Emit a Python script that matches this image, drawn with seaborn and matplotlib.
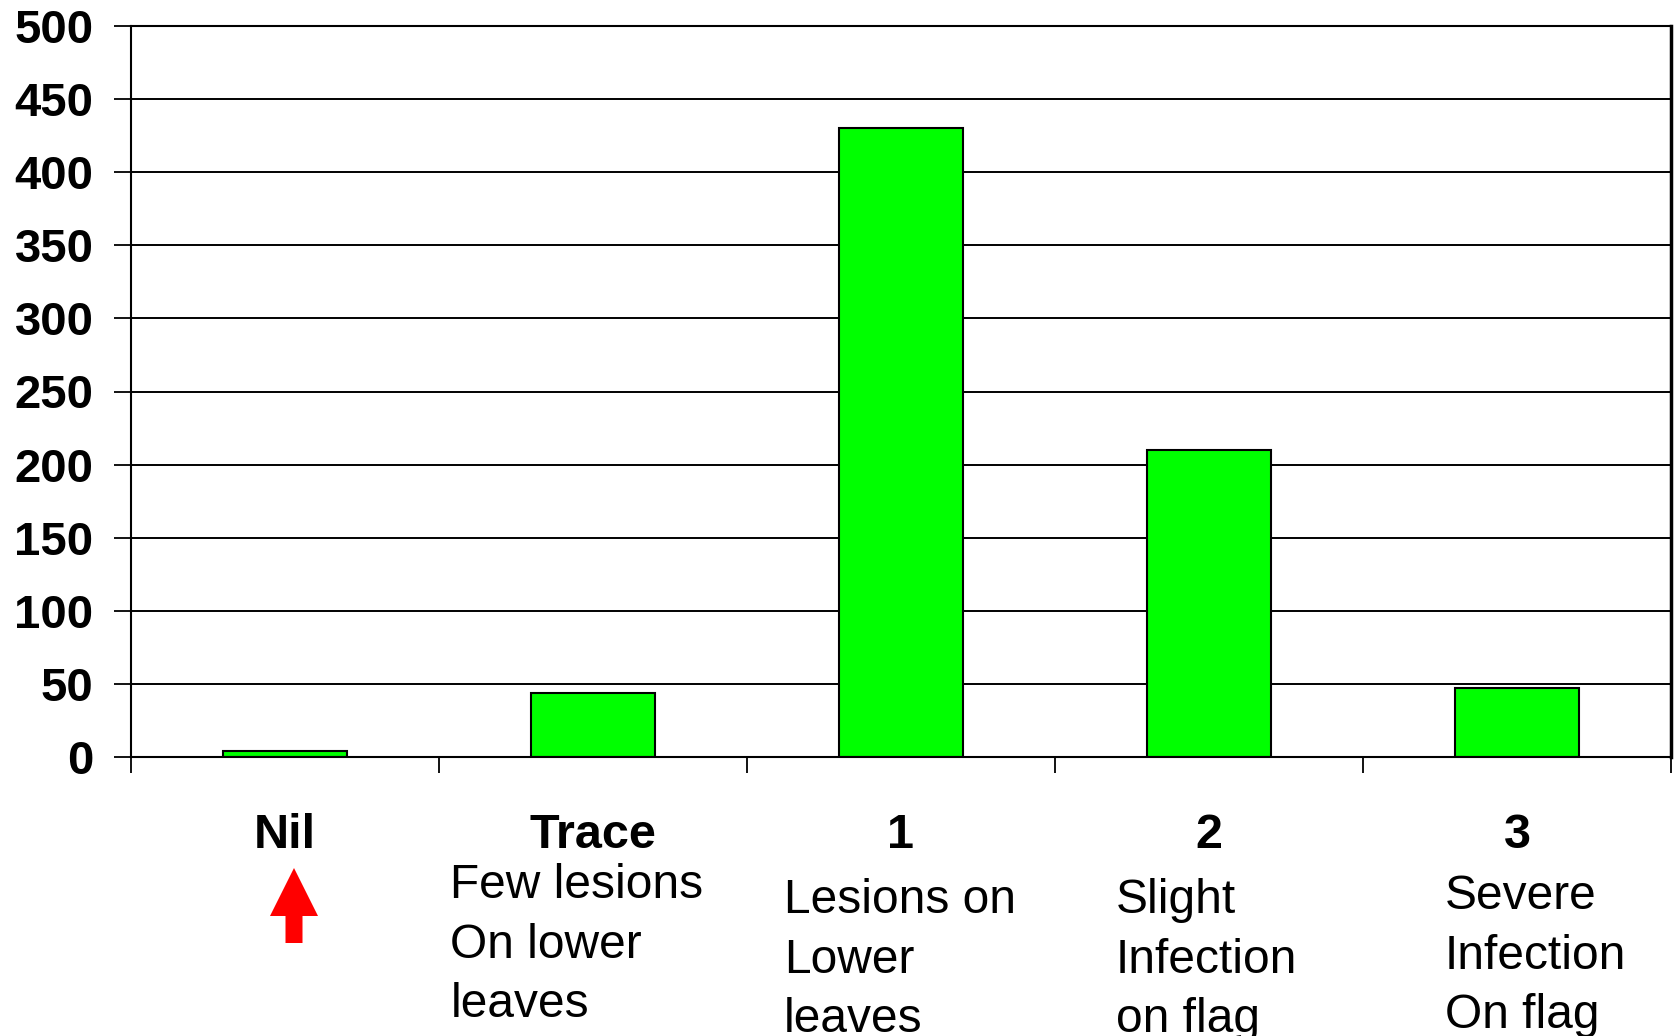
import matplotlib
matplotlib.use("Agg")
import matplotlib.pyplot as plt
from matplotlib.patches import FancyArrow
from matplotlib.ticker import FixedLocator, NullFormatter
import seaborn as sns
import pandas as pd

# Disease rating categories and counts
ratings = ["Nil", "Trace", "1", "2", "3"]
descriptions = [
    "",
    "Few lesions\nOn lower\nleaves",
    "Lesions on\nLower\nleaves",
    "Slight\nInfection\non flag",
    "Severe\nInfection\nOn flag",
]
counts = [4, 44, 430, 210, 47]
y_ticks = [0, 50, 100, 150, 200, 250, 300, 350, 400, 450, 500]

df = pd.DataFrame({"rating": ratings, "count": counts})

sns.set_theme(style="white")
plt.rcParams["font.family"] = ["Liberation Sans", "DejaVu Sans"]
plt.rcParams["text.color"] = "black"
plt.rcParams["xtick.color"] = "black"
plt.rcParams["ytick.color"] = "black"

W, H, DPI = 1675, 1036, 100
fig = plt.figure(figsize=(W / DPI, H / DPI), dpi=DPI)
ax = fig.add_axes([131 / W, 1 - 757 / H, (1671 - 131) / W, (757 - 26) / H])

sns.barplot(data=df, x="rating", y="count", order=ratings, color="#00FF00",
            saturation=1, width=0.4, edgecolor="black", linewidth=1.5, ax=ax)

ax.set_xlim(-0.5, len(ratings) - 0.5)
ax.set_ylim(0, 500)
ax.set_xlabel("")
ax.set_ylabel("")

# y axis: bold labels, outward ticks, black gridlines behind bars
ax.set_yticks(y_ticks)
ax.set_yticklabels([str(v) for v in y_ticks], fontsize=34, fontweight="bold",
                   color="black")
ax.tick_params(axis="y", left=True, direction="out", length=12, width=1.3,
               color="black", pad=15)
ax.yaxis.grid(True, color="black", linewidth=1.4)
ax.set_axisbelow(True)

# x axis: category names centred, tick marks on category boundaries
ax.set_xticks(range(len(ratings)))
ax.set_xticklabels(ratings, fontsize=35, fontweight="bold", color="black")
ax.tick_params(axis="x", which="major", bottom=False, length=0, pad=40)
ax.xaxis.set_minor_locator(FixedLocator([i - 0.5 for i in range(len(ratings) + 1)]))
ax.xaxis.set_minor_formatter(NullFormatter())
ax.tick_params(axis="x", which="minor", bottom=True, direction="out",
               length=11.5, width=1.3, color="black")

for side in ["left", "right", "top", "bottom"]:
    ax.spines[side].set_visible(True)
    ax.spines[side].set_color("black")
    ax.spines[side].set_linewidth(1.5)
ax.spines["right"].set_linewidth(2.5)

# descriptive text beneath each rating
desc_layout = [(0, 0), (-0.463, 871), (-0.381, 886), (-0.302, 886), (-0.234, 882)]
trans = matplotlib.transforms.blended_transform_factory(ax.transData, fig.transFigure)
for i, text in enumerate(descriptions):
    if not text:
        continue
    dx, ytop = desc_layout[i]
    ax.text(i + dx, 1 - (ytop - 8) / H, text, transform=trans, ha="left", va="top",
            fontsize=34.5, linespacing=1.42, color="black", clip_on=False)

# red marker arrow under "Nil"
arrow = FancyArrow(294 / DPI, (H - 943) / DPI, 0, 75 / DPI, width=17 / DPI,
                   head_width=48 / DPI, head_length=48 / DPI,
                   length_includes_head=True, color="#FF0000", linewidth=0,
                   transform=fig.dpi_scale_trans)
fig.patches.append(arrow)

fig.savefig("out.png", dpi=DPI, facecolor="white")
